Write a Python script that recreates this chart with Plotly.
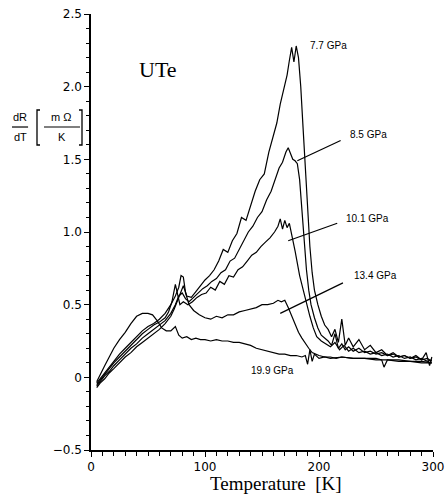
import plotly.graph_objects as go

# ---- data ----
T77 = [5, 8, 12, 16, 20, 25, 30, 35, 40, 45, 50, 55, 60, 65, 70, 73, 76, 79, 81, 84,
       88, 92, 96, 100, 104, 108, 112, 116, 120, 124, 128, 132, 136, 140, 144, 148, 152, 156, 160, 163,
       166, 169, 172, 174, 176, 178, 180, 182, 184, 186, 188, 190, 192, 194, 196, 199, 202, 205, 208, 211,
       214, 217, 220, 223, 226, 230, 235, 240, 245, 250, 255, 260, 265, 270, 275, 280, 285, 290, 294, 297, 299]
V77 = [-0.07, -0.04, -0.01, 0.03, 0.06, 0.10, 0.14, 0.17, 0.21, 0.24, 0.27, 0.30, 0.33, 0.37, 0.42,
       0.47, 0.53, 0.60, 0.63, 0.56, 0.55, 0.59, 0.63, 0.67, 0.70, 0.74, 0.80, 0.88, 0.86, 0.94,
       0.99, 1.10, 1.08, 1.18, 1.28, 1.36, 1.40, 1.55, 1.66, 1.75, 1.88, 1.97, 2.08, 2.18, 2.27,
       2.17, 2.28, 2.20, 2.00, 1.72, 1.45, 1.15, 0.90, 0.72, 0.60, 0.50, 0.42, 0.36, 0.33, 0.28,
       0.33, 0.24, 0.40, 0.22, 0.27, 0.21, 0.26, 0.19, 0.22, 0.17, 0.19, 0.15, 0.17, 0.14, 0.15,
       0.13, 0.15, 0.12, 0.17, 0.08, 0.14]

T85 = [5, 8, 12, 16, 20, 25, 30, 35, 40, 45, 50, 55, 60, 65, 70, 74, 77, 80, 83, 86,
       90, 94, 98, 102, 106, 110, 114, 118, 122, 126, 130, 134, 138, 142, 146, 150, 154, 158, 162, 165,
       168, 171, 173, 175, 177, 179, 181, 183, 185, 187, 189, 191, 193, 196, 199, 202, 205, 208, 211, 214,
       217, 220, 223, 226, 230, 235, 240, 245, 250, 255, 260, 265, 270, 275, 280, 285, 290, 295, 299]
V85 = [-0.06, -0.03, 0.01, 0.04, 0.08, 0.12, 0.16, 0.20, 0.23, 0.27, 0.30, 0.33, 0.36, 0.39, 0.44,
       0.50, 0.56, 0.58, 0.54, 0.52, 0.55, 0.58, 0.61, 0.63, 0.66, 0.68, 0.72, 0.74, 0.80, 0.82,
       0.88, 0.93, 1.00, 1.04, 1.10, 1.14, 1.22, 1.28, 1.38, 1.44, 1.48, 1.55, 1.58, 1.54, 1.50,
       1.49, 1.47, 1.36, 1.16, 0.92, 0.74, 0.60, 0.50, 0.41, 0.34, 0.29, 0.27, 0.25, 0.22, 0.30,
       0.20, 0.23, 0.19, 0.21, 0.18, 0.20, 0.17, 0.18, 0.16, 0.17, 0.15, 0.16, 0.14, 0.15, 0.13,
       0.14, 0.12, 0.13, 0.11]

T101 = [5, 8, 12, 16, 20, 25, 30, 35, 40, 45, 50, 55, 60, 65, 68, 71, 74, 76, 78, 81,
        85, 89, 93, 97, 101, 105, 109, 113, 117, 121, 125, 129, 133, 137, 141, 145, 149, 153, 157, 161,
        164, 166, 168, 170, 172, 174, 176, 179, 183, 186, 189, 192, 195, 198, 202, 206, 210, 214, 218, 222,
        226, 230, 235, 240, 245, 250, 255, 260, 265, 270, 275, 280, 285, 290, 295, 299]
V101 = [-0.05, -0.02, 0.02, 0.06, 0.10, 0.14, 0.18, 0.22, 0.26, 0.30, 0.33, 0.36, 0.38, 0.41, 0.45,
        0.52, 0.64, 0.58, 0.50, 0.52, 0.50, 0.52, 0.55, 0.57, 0.58, 0.62, 0.60, 0.66, 0.64, 0.70,
        0.69, 0.74, 0.76, 0.80, 0.84, 0.86, 0.90, 0.93, 0.96, 1.00, 1.04, 1.09, 1.02, 1.08, 1.03,
        1.06, 0.99, 0.87, 0.70, 0.60, 0.52, 0.42, 0.34, 0.28, 0.25, 0.23, 0.21, 0.24, 0.19, 0.22,
        0.18, 0.20, 0.17, 0.18, 0.16, 0.17, 0.15, 0.16, 0.14, 0.15, 0.13, 0.14, 0.12, 0.13, 0.11, 0.12]

T134 = [5, 8, 12, 16, 20, 25, 30, 35, 40, 45, 50, 55, 60, 65, 70, 74, 77, 79, 81, 83,
        86, 90, 95, 100, 105, 110, 115, 120, 125, 130, 135, 140, 145, 150, 155, 160, 164, 167, 170, 173,
        176, 179, 182, 185, 188, 191, 194, 197, 200, 205, 210, 215, 220, 230, 240, 250, 260, 270, 280, 290, 299]
V134 = [-0.04, -0.01, 0.03, 0.07, 0.11, 0.16, 0.20, 0.24, 0.28, 0.32, 0.35, 0.37, 0.40, 0.44, 0.50,
        0.56, 0.62, 0.70, 0.69, 0.58, 0.50, 0.46, 0.43, 0.41, 0.40, 0.42, 0.41, 0.43, 0.43, 0.45,
        0.46, 0.47, 0.48, 0.50, 0.50, 0.51, 0.53, 0.52, 0.53, 0.48, 0.42, 0.36, 0.31, 0.27, 0.23,
        0.20, 0.17, 0.16, 0.15, 0.14, 0.14, 0.13, 0.14, 0.13, 0.13, 0.12, 0.12, 0.11, 0.11, 0.10, 0.10]

T199 = [5, 8, 12, 16, 20, 25, 30, 35, 40, 45, 50, 54, 58, 62, 66, 70, 74, 77, 80, 84,
        88, 92, 96, 100, 105, 110, 115, 120, 125, 130, 135, 140, 145, 150, 155, 160, 165, 170, 175, 180,
        185, 188, 190, 192, 194, 196, 200, 205, 210, 220, 230, 240, 250, 255, 257, 260, 270, 280, 290, 299]
V199 = [-0.03, 0.02, 0.08, 0.14, 0.20, 0.26, 0.31, 0.37, 0.42, 0.44, 0.44, 0.43, 0.39, 0.34, 0.32,
        0.32, 0.35, 0.29, 0.27, 0.28, 0.26, 0.27, 0.26, 0.26, 0.25, 0.26, 0.25, 0.25, 0.24, 0.24,
        0.23, 0.22, 0.20, 0.19, 0.18, 0.17, 0.16, 0.16, 0.15, 0.15, 0.14, 0.15, 0.09, 0.19, 0.11,
        0.16, 0.13, 0.14, 0.13, 0.14, 0.13, 0.13, 0.13, 0.12, 0.07, 0.12, 0.12, 0.11, 0.11, 0.10]

SERIES = [("7.7 GPa", T77, V77), ("8.5 GPa", T85, V85), ("10.1 GPa", T101, V101),
          ("13.4 GPa", T134, V134), ("19.9 GPa", T199, V199)]

# label positions (T, value) and leader lines
LABELS = ["7.7 GPa", "8.5 GPa", "10.1 GPa", "13.4 GPa", "19.9 GPa"]
LABEL_T = [190, 225, 222, 229, 139]
LABEL_V = [2.28, 1.67, 1.09, 0.70, 0.05]
LEADER_T0 = [None, 181, 173, 166, None]
LEADER_V0 = [None, 1.49, 0.94, 0.44, None]
LEADER_T1 = [None, 219, 216, 221, None]
LEADER_V1 = [None, 1.63, 1.06, 0.65, None]

Y_TICKS = [-0.5, 0, 0.5, 1.0, 1.5, 2.0, 2.5]
Y_TICKTEXT = ["\u22120.5", "0", "0.5", "1.0", "1.5", "2.0", "2.5"]
X_TICKS = [0, 100, 200, 300]

fig = go.Figure()
for name, t, v in SERIES:
    assert len(t) == len(v), name
    fig.add_trace(go.Scatter(x=t, y=v, mode="lines", name=name,
                             line=dict(color="black", width=1.2), showlegend=False))

for lab, lt, lv, t0, v0, t1, v1 in zip(LABELS, LABEL_T, LABEL_V, LEADER_T0, LEADER_V0, LEADER_T1, LEADER_V1):
    fig.add_annotation(x=lt, y=lv, xref="x", yref="y", text=lab, showarrow=False,
                       xanchor="left", yanchor="middle",
                       font=dict(family="Liberation Sans", size=10, color="black"))
    if t0 is not None:
        fig.add_shape(type="line", xref="x", yref="y", x0=t0, y0=v0, x1=t1, y1=v1,
                      line=dict(color="black", width=1.2))

# "UTe"
fig.add_annotation(x=0.1345, y=0.8716, xref="paper", yref="paper", text="UTe", showarrow=False,
                   xanchor="left", yanchor="middle",
                   font=dict(family="Liberation Serif", size=22, color="black"))

# x-axis title
fig.add_annotation(x=0.541, y=-0.076, xref="paper", yref="paper", text="Temperature  [K]",
                   showarrow=False, xanchor="center", yanchor="middle",
                   font=dict(family="Liberation Serif", size=19, color="black"))

# y-axis title: dR/dT [mΩ/K]
yfont = dict(family="Liberation Sans", size=11, color="black")
fig.add_annotation(x=-0.2076, y=0.7638, xref="paper", yref="paper", text="dR", showarrow=False,
                   xanchor="center", yanchor="middle", font=yfont)
fig.add_annotation(x=-0.2076, y=0.7179, xref="paper", yref="paper", text="dT", showarrow=False,
                   xanchor="center", yanchor="middle", font=yfont)
fig.add_annotation(x=-0.0877, y=0.7638, xref="paper", yref="paper", text="m \u03a9", showarrow=False,
                   xanchor="center", yanchor="middle", font=yfont)
fig.add_annotation(x=-0.0848, y=0.7179, xref="paper", yref="paper", text="K", showarrow=False,
                   xanchor="center", yanchor="middle", font=yfont)
fig.add_shape(type="line", xref="paper", yref="paper", x0=-0.231, x1=-0.184, y0=0.7408, y1=0.7408,
              line=dict(color="black", width=1.2))
fig.add_shape(type="line", xref="paper", yref="paper", x0=-0.1374, x1=-0.0322, y0=0.7408, y1=0.7408,
              line=dict(color="black", width=1.2))
fig.add_shape(type="path", xref="paper", yref="paper",
              path="M -0.1491,0.7798 L -0.1579,0.7798 L -0.1579,0.6995 L -0.1491,0.6995",
              line=dict(color="black", width=1.3))
fig.add_shape(type="path", xref="paper", yref="paper",
              path="M -0.0351,0.7798 L -0.0263,0.7798 L -0.0263,0.6995 L -0.0351,0.6995",
              line=dict(color="black", width=1.3))

fig.update_xaxes(range=[0, 300], tickvals=X_TICKS, ticks="outside", ticklen=5, tickwidth=1.2,
                 tickcolor="black", showline=True, linecolor="black", linewidth=1.5,
                 showgrid=False, zeroline=False, automargin=False,
                 minor=dict(dtick=10, ticks="outside", ticklen=4, tickwidth=1, tickcolor="black", showgrid=False),
                 tickfont=dict(family="DejaVu Sans", size=12, color="black"))
fig.update_yaxes(range=[-0.5, 2.5], tickvals=Y_TICKS, ticktext=Y_TICKTEXT, ticks="outside", ticklen=5,
                 tickwidth=1.2, tickcolor="black", showline=True, linecolor="black", linewidth=1.5,
                 showgrid=False, zeroline=False, automargin=False,
                 minor=dict(dtick=0.1, ticks="outside", ticklen=3, tickwidth=1, tickcolor="black", showgrid=False),
                 tickfont=dict(family="DejaVu Sans", size=12, color="black"))

fig.update_layout(width=447, height=499, autosize=False, margin=dict(l=91, r=14, t=14, b=49),
                  paper_bgcolor="white", plot_bgcolor="white", showlegend=False)

fig.write_html("out.html", config={"responsive": False, "displayModeBar": False},
               post_script="document.body.style.margin='0px';document.body.style.overflow='hidden';")
